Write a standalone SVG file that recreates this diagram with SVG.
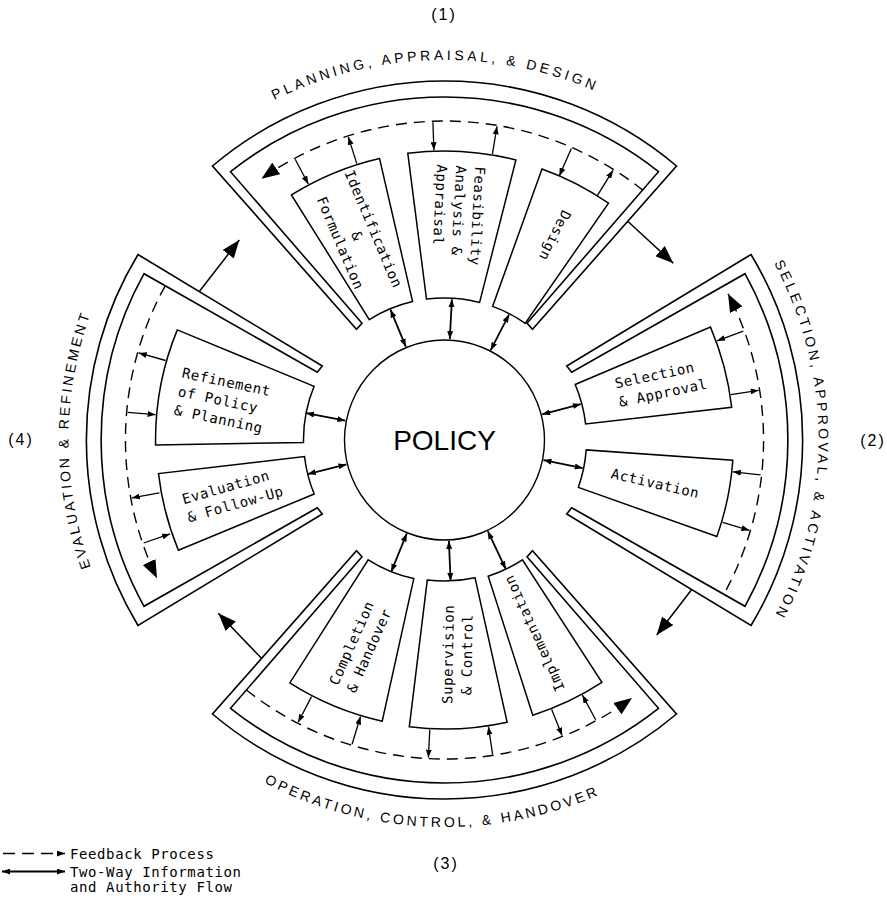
<svg xmlns="http://www.w3.org/2000/svg" width="887" height="910" viewBox="0 0 887 910">
<defs>
<style>
.fr{fill:none;stroke:#000;stroke-width:1.6;stroke-linejoin:miter}
.bx{fill:#fff;stroke:#000;stroke-width:1.5}
.n{font-family:"DejaVu Sans Mono","Liberation Mono",monospace;font-size:14px;letter-spacing:0.6px;fill:#000}
.lab{font-family:"Liberation Sans",Arial,sans-serif;font-size:14px;fill:#000}
.num{font-family:"Liberation Sans",Arial,sans-serif;font-size:16px;letter-spacing:2px;fill:#000}
.fb{fill:none;stroke:#000;stroke-width:1.3;marker-end:url(#sm)}
.tw{fill:none;stroke:#000;stroke-width:1.8;marker-start:url(#sm2);marker-end:url(#sm2)}
.ds{fill:none;stroke:#000;stroke-width:1.4;stroke-dasharray:11 7;marker-end:url(#big)}
.tr{fill:none;stroke:#000;stroke-width:1.5;marker-end:url(#big)}
</style>
<marker id="sm" viewBox="0 0 8 6" refX="8" refY="3" markerWidth="8" markerHeight="6" markerUnits="userSpaceOnUse" orient="auto"><path d="M0,0 L8,3 L0,6 Z"/></marker>
<marker id="sm2" viewBox="0 0 8 6" refX="8" refY="3" markerWidth="8" markerHeight="6" markerUnits="userSpaceOnUse" orient="auto-start-reverse"><path d="M0,0 L8,3 L0,6 Z"/></marker>
<marker id="big" viewBox="0 0 18 14" refX="18" refY="7" markerWidth="18" markerHeight="14" markerUnits="userSpaceOnUse" orient="auto"><path d="M0,0 L18,7 L0,14 Z"/></marker>
<path id="p1" d="M110.5,258.7 A380,380 0 0 1 768.5,241.4"/>
<path id="p2" d="M631.5,116.1 A374,374 0 0 1 631.5,763.9"/>
<path id="p3" d="M102.8,621.7 A387,387 0 0 0 772.7,645.1"/>
<path id="p4" d="M256.5,765.6 A376,376 0 0 1 256.5,114.4"/>
</defs>
<rect width="887" height="910" fill="#fff"/>

<g id="frames">
<path class="fr" transform="translate(444.5,440)" d="M-232,-274 A359,359 0 0 1 232,-274 L88,-110.7 L82.5,-116.7 L214,-268.3 A344,344 0 0 0 -214,-268.3 L-82.5,-116.7 L-88,-110.7 Z"/>
<path class="fr" transform="translate(444.5,440) scale(1,-1)" d="M-232,-274 A359,359 0 0 1 232,-274 L88,-110.7 L82.5,-116.7 L214,-268.3 A344,344 0 0 0 -214,-268.3 L-82.5,-116.7 L-88,-110.7 Z"/>
<path class="fr" transform="translate(444.5,440)" d="M306.5,-185.5 A359,359 0 0 1 306.5,185.5 L122.2,74 L127.2,67.7 L300.5,166.3 A344,344 0 0 0 300.5,-166.3 L127.2,-67.7 L122.2,-74 Z"/>
<path class="fr" transform="translate(444.5,440) scale(-1,1)" d="M306.5,-185.5 A359,359 0 0 1 306.5,185.5 L122.2,74 L127.2,67.7 L300.5,166.3 A344,344 0 0 0 300.5,-166.3 L127.2,-67.7 L122.2,-74 Z"/>
</g>

<g id="labels">
<text class="lab" letter-spacing="3.5"><textPath href="#p1" startOffset="50%" text-anchor="middle">PLANNING, APPRAISAL, &amp; DESIGN</textPath></text>
<text class="lab" letter-spacing="3.2"><textPath href="#p2" startOffset="50%" text-anchor="middle">SELECTION, APPROVAL, &amp; ACTIVATION</textPath></text>
<text class="lab" letter-spacing="3"><textPath href="#p3" startOffset="50%" text-anchor="middle">OPERATION, CONTROL, &amp; HANDOVER</textPath></text>
<text class="lab" letter-spacing="2.8"><textPath href="#p4" startOffset="50%" text-anchor="middle">EVALUATION &amp; REFINEMENT</textPath></text>
<text class="num" x="444" y="20" text-anchor="middle">(1)</text>
<text class="num" x="873" y="446" text-anchor="middle">(2)</text>
<text class="num" x="446" y="869" text-anchor="middle">(3)</text>
<text class="num" x="21" y="445" text-anchor="middle">(4)</text>
</g>

<g id="policy">
<circle cx="444.5" cy="440" r="100" fill="#fff" stroke="#000" stroke-width="1.4"/>
<text x="444.5" y="450" text-anchor="middle" font-family="Liberation Sans, Arial, sans-serif" font-size="28">POLICY</text>
</g>

<g id="identification">
<path class="bx" d="M291.4,194.9 A289,289 0 0 1 379.5,158.4 L412.6,301.6 A142,142 0 0 0 369.3,319.6 Z"/>
<text class="n" transform="translate(357,236) rotate(67)" text-anchor="middle"><tspan x="0" y="-13">Identification</tspan><tspan x="0" y="5">&amp;</tspan><tspan x="0" y="23">Formulation</tspan></text>
</g>
<g id="feasibility">
<path class="bx" d="M407.8,153.3 A289,289 0 0 1 515.9,160 L479.6,302.4 A142,142 0 0 0 426.5,299.1 Z"/>
<text class="n" transform="translate(461.2,165.5) rotate(93)"><tspan x="0" y="-14">Feasibility</tspan><tspan x="0" y="5">Analysis &amp;</tspan><tspan x="0" y="24">Appraisal</tspan></text>
</g>
<g id="design">
<path class="bx" d="M542,169 A288,288 0 0 1 608.5,203.2 L525.3,323.3 A142,142 0 0 0 492.6,306.4 Z"/>
<text class="n" transform="translate(555,235.7) rotate(116)" text-anchor="middle" y="5">Design</text>
</g>
<g id="selection">
<path class="bx" d="M710.5,327.1 A289,289 0 0 1 731.7,407.3 L585.6,423.9 A142,142 0 0 0 575.2,384.5 Z"/>
<text class="n" transform="translate(614.9,383.6) rotate(-12)"><tspan x="0" y="5">Selection</tspan><tspan x="0" y="24">&amp; Approval</tspan></text>
</g>
<g id="activation">
<path class="bx" d="M732.8,460.2 A289,289 0 0 1 716.9,536.5 L578.3,487.4 A142,142 0 0 0 586.2,449.9 Z"/>
<text class="n" transform="translate(655.3,483.3) rotate(13)" text-anchor="middle" y="5">Activation</text>
</g>
<g id="completion">
<path class="bx" d="M382.2,721.2 A288,288 0 0 1 289.8,682.9 L368.2,559.8 A142,142 0 0 0 413.8,578.6 Z"/>
<text class="n" transform="translate(333.2,684.1) rotate(-66)"><tspan x="0" y="5">Completion</tspan><tspan x="0" y="24">&amp; Handover</tspan></text>
</g>
<g id="supervision">
<path class="bx" d="M507.1,722.2 A289,289 0 0 1 409.3,726.8 L427.3,579.9 A141,141 0 0 0 475,577.7 Z"/>
<text class="n" transform="translate(457.5,654.5) rotate(-89)" text-anchor="middle"><tspan x="0" y="-4.5">Supervision</tspan><tspan x="0" y="14.5">&amp; Control</tspan></text>
</g>
<g id="implementation">
<path class="bx" d="M601.9,682.4 A289,289 0 0 1 532.8,715.2 L488.2,576.2 A143,143 0 0 0 522.4,559.9 Z"/>
<text class="n" transform="translate(534.2,633.3) rotate(-114.5)" text-anchor="middle" y="5">Implementation</text>
</g>
<g id="refinement">
<path class="bx" d="M155.6,445.1 A289,289 0 0 1 177.3,329.9 L314.1,386.3 A141,141 0 0 0 303.5,442.5 Z"/>
<text class="n" transform="translate(182.3,372.4) rotate(12)"><tspan x="0" y="5">Refinement</tspan><tspan x="0" y="24">of Policy</tspan><tspan x="0" y="43">&amp; Planning</tspan></text>
</g>
<g id="evaluation">
<path class="bx" d="M178.4,550.2 A288,288 0 0 1 158.5,473.6 L304.5,456.5 A141,141 0 0 0 314.2,494 Z"/>
<text class="n" transform="translate(182.4,499.5) rotate(-16)"><tspan x="0" y="5">Evaluation</tspan><tspan x="0" y="24">&amp; Follow-Up</tspan></text>
</g>

<g id="connectors">
<path class="ds" d="M643.1,190.4 A319,319 0 0 0 261.5,178.7"/>
<path class="ds" d="M726.2,589.8 A319,319 0 0 0 728,293.7"/>
<path class="ds" d="M246.4,690 A319,319 0 0 0 632,698.1"/>
<path class="ds" d="M165.2,285.8 A319,319 0 0 0 157,578.3"/>
<path class="tr" d="M628,221.5 L673.3,263.3"/>
<path class="tr" d="M691.7,589.5 L656.7,635"/>
<path class="tr" d="M261.5,658.3 L218.3,613.3"/>
<path class="tr" d="M199.3,291.5 L239.3,240"/>
<path class="fb" d="M295.2,159.2 L308.3,184"/>
<path class="fb" d="M356.8,163.6 L348.3,136.9"/>
<path class="fb" d="M432.9,122.2 L433.9,150.2"/>
<path class="fb" d="M492.4,154 L497,126.4"/>
<path class="fb" d="M571.3,148.4 L559.3,175.9"/>
<path class="fb" d="M597.1,195.8 L613,170.3"/>
<path class="fb" d="M743.3,331.2 L717,340.8"/>
<path class="fb" d="M730.9,394.6 L758.6,390.3"/>
<path class="fb" d="M760.6,474.9 L732.8,471.8"/>
<path class="fb" d="M722.6,522.4 L749.4,530.3"/>
<path class="fb" d="M311.5,696.6 L298.2,722.3"/>
<path class="fb" d="M352.1,744.3 L360.5,716.5"/>
<path class="fb" d="M429.8,729.6 L428.4,757.6"/>
<path class="fb" d="M492.6,754.3 L488.4,726.7"/>
<path class="fb" d="M551.7,709.4 L562.1,735.5"/>
<path class="fb" d="M595.7,719.7 L582.4,695.1"/>
<path class="fb" d="M165.6,360.5 L138.7,352.9"/>
<path class="fb" d="M127.7,412.3 L155.6,414.7"/>
<path class="fb" d="M159.3,492.8 L131.8,497.9"/>
<path class="fb" d="M143.6,543 L170.1,533.9"/>
<path class="tw" d="M405.8,346.7 L390.5,309.7"/>
<path class="tw" d="M449.8,339.1 L451.9,299.2"/>
<path class="tw" d="M490.7,350.2 L509,314.6"/>
<path class="tw" d="M542.2,414.3 L580.8,404.1"/>
<path class="tw" d="M543.5,460.1 L582.7,468.1"/>
<path class="tw" d="M406.7,533.6 L391.3,571.7"/>
<path class="tw" d="M448.9,540.9 L450.6,580.9"/>
<path class="tw" d="M487.8,531.2 L505.8,569.2"/>
<path class="tw" d="M345.4,420.7 L306.1,413.1"/>
<path class="tw" d="M346.5,464.4 L307.7,474.1"/>
</g>

<g id="legend">
<path d="M3,853.5 L65,853.5" fill="none" stroke="#000" stroke-width="1.4" stroke-dasharray="12 7" marker-end="url(#sm)"/>
<path class="tw" d="M2,871.5 L65,871.5"/>
<text class="n" x="70" y="858.5">Feedback Process</text>
<text class="n" x="70" y="877">Two-Way Information</text>
<text class="n" x="70" y="892">and Authority Flow</text>
</g>
</svg>
